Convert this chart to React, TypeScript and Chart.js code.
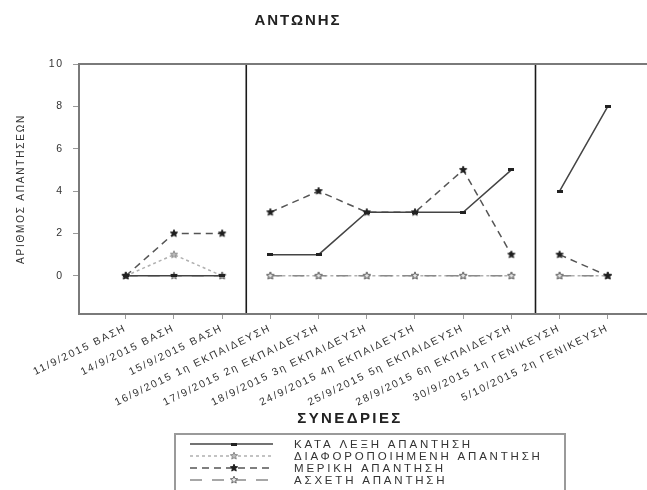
import React, { useEffect, useRef } from "react";
import { Chart, registerables } from "chart.js";

Chart.register(...registerables);

const TITLE = "ΑΝΤΩΝΗΣ";
const X_TITLE = "ΣΥΝΕΔΡΙΕΣ";
const Y_TITLE = "ΑΡΙΘΜΟΣ ΑΠΑΝΤΗΣΕΩΝ";

const SESSIONS = [
  "11/9/2015 ΒΑΣΗ",
  "14/9/2015 ΒΑΣΗ",
  "15/9/2015 ΒΑΣΗ",
  "16/9/2015 1η ΕΚΠΑΙΔΕΥΣΗ",
  "17/9/2015 2η ΕΚΠΑΙΔΕΥΣΗ",
  "18/9/2015 3η ΕΚΠΑΙΔΕΥΣΗ",
  "24/9/2015 4η ΕΚΠΑΙΔΕΥΣΗ",
  "25/9/2015 5η ΕΚΠΑΙΔΕΥΣΗ",
  "28/9/2015 6η ΕΚΠΑΙΔΕΥΣΗ",
  "30/9/2015 1η ΓΕΝΙΚΕΥΣΗ",
  "5/10/2015 2η ΓΕΝΙΚΕΥΣΗ",
];

// last session number of each phase before a phase-change line
const PHASE_ENDS = [3, 9];

const KATA_LEXI = [0, 0, 0, 1, 1, 3, 3, 3, 5, 4, 8];
const DIAFOROPOIIMENI = [0, 1, 0, 0, 0, 0, 0, 0, 0, 0, 0];
const MERIKI = [0, 2, 2, 3, 4, 3, 3, 5, 1, 1, 0];
const ASXETI = [0, 0, 0, 0, 0, 0, 0, 0, 0, 0, 0];

const SERIES_NAMES = [
  "ΚΑΤΑ ΛΕΞΗ ΑΠΑΝΤΗΣΗ",
  "ΔΙΑΦΟΡΟΠΟΙΗΜΕΝΗ ΑΠΑΝΤΗΣΗ",
  "ΜΕΡΙΚΗ ΑΠΑΝΤΗΣΗ",
  "ΑΣΧΕΤΗ ΑΠΑΝΤΗΣΗ",
];

const Y_TICKS = [0, 2, 4, 6, 8, 10];

const FONT = '"Liberation Sans", Arial, sans-serif';

function toPoints(vals: number[]) {
  const out: { x: number; y: number | null }[] = [];
  vals.forEach((v, i) => {
    out.push({ x: i + 1, y: v });
    if (PHASE_ENDS.includes(i + 1)) out.push({ x: i + 1.5, y: null });
  });
  return out;
}

function starCanvas(r: number, fill: string | null, stroke: string | null) {
  const size = Math.ceil(r * 2 + 4);
  const c = document.createElement("canvas");
  c.width = size;
  c.height = size;
  const g = c.getContext("2d")!;
  g.beginPath();
  for (let k = 0; k < 10; k++) {
    const ang = -Math.PI / 2 + (k * Math.PI) / 5;
    const rr = k % 2 === 0 ? r : r * 0.45;
    g.lineTo(size / 2 + rr * Math.cos(ang), size / 2 + rr * Math.sin(ang));
  }
  g.closePath();
  if (fill) {
    g.fillStyle = fill;
    g.fill();
  }
  if (stroke) {
    g.strokeStyle = stroke;
    g.lineWidth = 1;
    g.stroke();
  }
  return c;
}

function rectCanvas(w: number, h: number, fill: string) {
  const c = document.createElement("canvas");
  c.width = w;
  c.height = h;
  const g = c.getContext("2d")!;
  g.fillStyle = fill;
  g.fillRect(0, 0, w, h);
  return c;
}

export default function App() {
  const ref = useRef<HTMLCanvasElement | null>(null);

  useEffect(() => {
    if (!ref.current) return;
    const markKata = rectCanvas(6, 3, "#222");
    const markDiaf = starCanvas(3.8, "#bbb", "#888");
    const markMeriki = starCanvas(3.8, "#1e1e1e", "#1e1e1e");
    const markAsxeti = starCanvas(3.8, "#e6e6e6", "#666");

    const styles = [
      { color: "#444", dash: [] as number[], mark: markKata, order: 0 },
      { color: "#b0b0b0", dash: [3, 3], mark: markDiaf, order: 3 },
      { color: "#555", dash: [7, 5], mark: markMeriki, order: 1 },
      { color: "#8a8a8a", dash: [12, 10], mark: markAsxeti, order: 2 },
    ];
    const values = [KATA_LEXI, DIAFOROPOIIMENI, MERIKI, ASXETI];

    const deco = {
      id: "deco",
      beforeDraw(chart: any) {
        chart.ctx.letterSpacing = "1.8px";
      },
      beforeDatasetsDraw(chart: any) {
        const { ctx, chartArea, scales } = chart;
        ctx.save();
        ctx.strokeStyle = "#1a1a1a";
        ctx.lineWidth = 1.6;
        PHASE_ENDS.forEach((p) => {
          const x = scales.x.getPixelForValue(p + 0.5);
          ctx.beginPath();
          ctx.moveTo(x, chartArea.top);
          ctx.lineTo(x, chartArea.bottom);
          ctx.stroke();
        });
        ctx.restore();
      },
      afterDraw(chart: any) {
        const { ctx, chartArea } = chart;
        ctx.save();
        // plot frame
        ctx.strokeStyle = "#7a7a7a";
        ctx.lineWidth = 2;
        ctx.beginPath();
        ctx.moveTo(chartArea.right, chartArea.top);
        ctx.lineTo(chartArea.left, chartArea.top);
        ctx.lineTo(chartArea.left, chartArea.bottom);
        ctx.lineTo(chartArea.right, chartArea.bottom);
        ctx.stroke();

        // titles
        ctx.fillStyle = "#222";
        ctx.textAlign = "center";
        ctx.textBaseline = "middle";
        ctx.letterSpacing = "2px";
        ctx.font = `bold 15px ${FONT}`;
        ctx.fillText(TITLE, 298, 21);
        ctx.letterSpacing = "2.4px";
        ctx.fillText(X_TITLE, 350, 419);

        // legend
        const lx = 175, ly = 434, lw = 390, lh = 62;
        ctx.strokeStyle = "#9a9a9a";
        ctx.lineWidth = 2;
        ctx.strokeRect(lx, ly, lw, lh);
        ctx.letterSpacing = "2.8px";
        ctx.font = `11.5px ${FONT}`;
        ctx.textAlign = "left";
        SERIES_NAMES.forEach((name, i) => {
          const y = 444 + i * 12;
          const s = styles[i];
          ctx.strokeStyle = s.color;
          ctx.lineWidth = 1.5;
          ctx.setLineDash(s.dash);
          ctx.beginPath();
          ctx.moveTo(190, y);
          ctx.lineTo(273, y);
          ctx.stroke();
          ctx.setLineDash([]);
          ctx.drawImage(s.mark, 234 - s.mark.width / 2, y - s.mark.height / 2);
          ctx.fillStyle = "#333";
          ctx.fillText(name, 294, y + 0.5);
        });
        ctx.restore();
        ctx.letterSpacing = "0px";
      },
    };

    const chart = new Chart(ref.current, {
      type: "line",
      data: {
        datasets: values.map((vals, i) => ({
          label: SERIES_NAMES[i],
          data: toPoints(vals),
          borderColor: styles[i].color,
          borderWidth: 1.5,
          borderDash: styles[i].dash,
          pointStyle: styles[i].mark as any,
          pointRadius: 4,
          spanGaps: false,
          tension: 0,
          order: styles[i].order,
          fill: false,
        })),
      },
      options: {
        animation: false,
        responsive: false,
        devicePixelRatio: 1,
        layout: { padding: { top: 64, left: 0, right: 24, bottom: 0 } },
        plugins: {
          legend: { display: false },
          title: { display: false },
          tooltip: { enabled: false },
        },
        scales: {
          x: {
            type: "linear",
            min: 0.03,
            max: 12,
            afterFit: (s: any) => {
              s.height = 176;
            },
            afterBuildTicks: (s: any) => {
              s.ticks = SESSIONS.map((_, i) => ({ value: i + 1 }));
            },
            ticks: {
              autoSkip: false,
              minRotation: 26,
              maxRotation: 26,
              padding: 3,
              color: "#333",
              font: { family: FONT, size: 10.5 },
              callback: (v: any) => SESSIONS[Math.round(v) - 1] ?? "",
            },
            grid: {
              drawOnChartArea: false,
              drawTicks: true,
              tickLength: 5,
              color: "#999",
            },
            border: { display: false },
          },
          y: {
            type: "linear",
            min: -1.8,
            max: 10,
            afterFit: (s: any) => {
              s.width = 79;
            },
            afterBuildTicks: (s: any) => {
              s.ticks = Y_TICKS.map((v) => ({ value: v }));
            },
            ticks: {
              padding: 9,
              color: "#333",
              font: { family: FONT, size: 10.5 },
            },
            grid: {
              drawOnChartArea: false,
              drawTicks: true,
              tickLength: 6,
              color: "#999",
            },
            border: { display: false },
            title: {
              display: true,
              text: Y_TITLE,
              color: "#333",
              font: { family: FONT, size: 10 },
              padding: { top: 15, bottom: 0 },
            },
          },
        },
      },
      plugins: [deco],
    });
    return () => chart.destroy();
  }, []);

  return (
    <div
      style={{
        position: "absolute",
        left: 0,
        top: 0,
        width: 647,
        height: 490,
        overflow: "hidden",
        background: "#fff",
      }}
    >
      <canvas ref={ref} width={680} height={490} style={{ display: "block" }} />
    </div>
  );
}
